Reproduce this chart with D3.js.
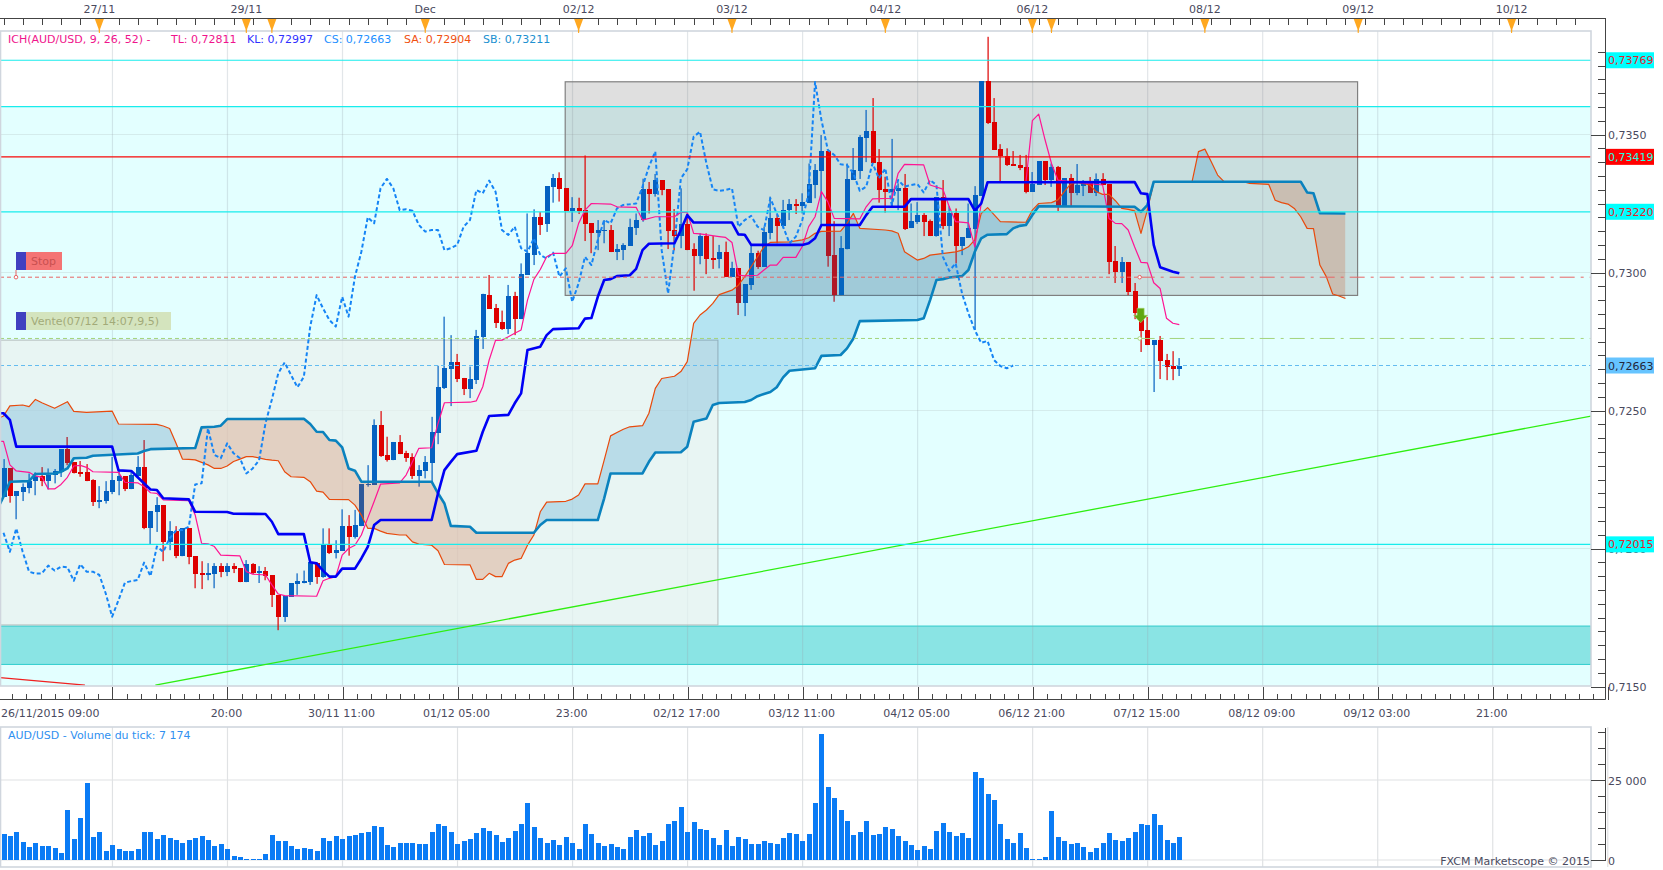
<!DOCTYPE html>
<html>
<head>
<meta charset="utf-8">
<title>AUD/USD Ichimoku</title>
<script src="https://cdnjs.cloudflare.com/ajax/libs/d3/7.8.5/d3.min.js"></script>
<style>
  html, body { margin: 0; padding: 0; background: #fff; }
  svg { display: block; font-family: "DejaVu Sans", sans-serif; font-size: 11px; }
  .axis-label { fill: #4a4a5e; }
  .axis line { stroke: #444; shape-rendering: crispEdges; }
  .axis path { display: none; }
  .axis text { fill: #4a4a5e; font-size: 11.2px; font-family: "DejaVu Sans", sans-serif; }
</style>
</head>
<body>
<div id="chart"></div>
<script>
const WIDTH = 1663;
const HEIGHT = 870;

// all prices are in pips (0,7300 = 7300), one candle per hour
const opens = [
  7218.7,7229.1,7219,7220.4,7221.8,7224.4,7226.2,7224.4,7226.6,7227.7,
  7236,7231.3,7227.7,7227.7,7224.8,7217,7217.2,7220.4,7224.4,7226.2,
  7221.5,7226.2,7229.5,7207.4,7213.2,7215.7,7202.3,7206.3,7197.2,7207.4,
  7197.2,7191.1,7190.4,7190.7,7193.6,7191.4,7193.6,7192.9,7187.8,7194.3,
  7191.1,7191.8,7190.4,7183.1,7175.2,7182.5,7187.1,7187.7,7188,7194.9,
  7189.8,7201.2,7198.5,7199.2,7208.1,7204,7208.1,7223.1,7223,7244.7,
  7233.8,7232,7238.6,7234.7,7233.1,7226.2,7228,7231.1,7241.8,7258.1,
  7265,7267.6,7261.8,7257.8,7261,7276.6,7292,7287.1,7282,7279.5,
  7291.5,7283.1,7299.1,7306.3,7320.1,7317.5,7331,7334.2,7330.6,7322.3,
  7323.4,7322.6,7317.9,7314.3,7315.2,7315.4,7307.4,7308.1,7309.6,7316.1,
  7319,7330.2,7328.4,7333.5,7330.2,7315.4,7313.2,7317.6,7308.5,7306,
  7313.2,7305.2,7304.9,7307.4,7298.4,7301.6,7289.1,7295.5,7307,7302,
  7314.3,7319.7,7317,7322.6,7324.8,7324.1,7325.2,7331.7,7336.8,7344,
  7306.3,7291.8,7308.4,7333.5,7336.8,7348.7,7351.2,7340,7330.2,7329.2,
  7329.5,7330.6,7316.1,7318.3,7320.8,7318.6,7313.2,7327.4,7316.8,7321.5,
  7309.6,7312.5,7315.7,7327.7,7369.4,7354.5,7344.7,7342.2,7339.3,7338.9,
  7338.2,7329.2,7331.7,7340.4,7333.5,7338.2,7324.1,7334.2,7328.7,7331.3,
  7332.8,7328.7,7333.9,7332,7304.2,7300.2,7303.8,7293.3,7285.7,7279.2,
  7273.7,7275.5,7268.3,7266.1,7265.1
];
const highs = [
  7232.4,7229.1,7220.8,7223.6,7227.2,7227.6,7229.5,7229,7228.8,7236,
  7240.4,7231.3,7231.7,7230.6,7225.1,7222.6,7224.4,7233.2,7228,7226.2,
  7228,7233.5,7239.3,7213.5,7218.6,7215.7,7209.9,7208.1,7207.4,7207.4,
  7197.2,7195.4,7194.7,7194.7,7194.7,7194.7,7194.7,7192.9,7195.8,7194.7,
  7193.6,7193.3,7190.4,7183.1,7182.8,7187.5,7191,7192,7195,7195,
  7207.3,7207.3,7203,7214.2,7212.1,7214,7223.3,7230.2,7246.8,7249.8,
  7240.5,7238.6,7241.1,7235.4,7234.5,7230.2,7233.5,7247.7,7266.2,7284,
  7277.3,7270.5,7261.8,7265.9,7279.2,7292.3,7299.1,7288.6,7286.2,7295.5,
  7293,7303.3,7321.4,7322.9,7321.9,7331.3,7335.7,7336.3,7330.6,7327.3,
  7327.1,7342.4,7317.9,7319,7319,7317.2,7310.3,7310.6,7319.5,7321.4,
  7334,7332.8,7335.7,7333.5,7330.2,7323,7330.5,7321.4,7310.6,7314.2,
  7314.2,7313.2,7310,7311.2,7303.9,7301.6,7295.8,7310,7307.9,7316.6,
  7327.5,7320.8,7326.3,7326.6,7326.6,7328.7,7339.5,7339.3,7349.8,7344,
  7318.6,7313.2,7339.5,7345.1,7349.8,7358.9,7363.2,7344.7,7334.7,7348.4,
  7332.3,7335.7,7325,7325.5,7321.5,7319.2,7327.4,7333.5,7324,7323.2,
  7312.8,7325,7331.3,7369.4,7385.4,7363.2,7346.5,7345,7344,7342.6,
  7342.6,7336.4,7340.4,7340.4,7339.5,7338.6,7334.2,7335.7,7339.3,7333.5,
  7334.6,7335.9,7336,7332,7309.6,7305.6,7303.8,7296.2,7286.4,7283.9,
  7275.5,7277,7270.5,7271.5,7269
];
const lows = [
  7218.7,7216.6,7210.6,7217.2,7220,7219.3,7222.6,7221.4,7223.6,7225.9,
  7230.2,7227.2,7226,7224.4,7215.4,7214.6,7216.3,7219.7,7219.3,7220.8,
  7221.5,7225.5,7207,7201.6,7206,7195.4,7199.4,7196.5,7197.2,7194.3,
  7185.6,7185.3,7188.5,7185.6,7189.6,7190,7191.1,7187.8,7187.8,7190.7,
  7187.5,7188.5,7178.8,7170.4,7173.4,7182.5,7183.2,7187.4,7186.8,7187.2,
  7189.4,7198,7196.4,7199.2,7197.4,7203.6,7208.1,7222.4,7223,7233.2,
  7231.5,7232,7234.2,7231.4,7225.2,7222.4,7225.4,7223.8,7237.8,7257.8,
  7251.6,7260.3,7255.6,7254.5,7259.6,7272.3,7286.8,7279.9,7279.2,7277.7,
  7277.3,7283.1,7299.1,7302.7,7313.6,7314.7,7325.3,7325.7,7322.3,7318.3,
  7321.2,7311.4,7307,7308.1,7310.6,7307.4,7304.5,7304.5,7309.6,7313.6,
  7318.4,7321.4,7327.5,7328,7308.5,7308,7308.8,7308.1,7293.4,7303,
  7299.4,7301.3,7301.5,7298.4,7298.4,7284.6,7284.2,7293.7,7301.3,7302,
  7312,7310.6,7316,7319,7321.2,7321.4,7325.2,7326.9,7317.2,7302.1,
  7289.4,7291.8,7308.4,7333.5,7333.9,7340,7339.7,7325.3,7321.7,7323.8,
  7322.6,7315.4,7316.1,7317.6,7313.2,7313.2,7313,7315.7,7313.2,7303.3,
  7306.3,7312.5,7279.2,7327.7,7353.8,7344.4,7333.1,7338.6,7338.6,7337.1,
  7328.7,7329.2,7331.7,7331.7,7331,7322.3,7324.1,7324.1,7328,7327.7,
  7328.8,7327.7,7331.7,7299.4,7296.2,7296.2,7291.8,7283.1,7271.2,7273.7,
  7256.7,7261.4,7261,7261,7262.5
];
const closes = [
  7229.1,7219,7220.8,7222.2,7224.4,7226.2,7224.4,7226.6,7228,7236,
  7231,7227.3,7227.3,7224.4,7216.8,7217.5,7220.8,7224.8,7226.2,7221.5,
  7226.6,7229.5,7207.4,7213.5,7215.7,7202.3,7206.3,7197.2,7207.4,7196.9,
  7190.7,7190.4,7191.1,7193.6,7191.4,7193.6,7192.5,7187.8,7194.3,7191.1,
  7191.8,7190,7183.1,7175.1,7182.8,7187.5,7188.1,7188.1,7195,7189.8,
  7201.3,7198.3,7199.4,7208.1,7204,7208.5,7223.3,7223.5,7244.7,7233.5,
  7232,7238.6,7234.2,7232.8,7226.2,7228.4,7231.3,7242.2,7258.5,7265.4,
  7267.6,7261.4,7257.8,7261.4,7277,7292.3,7286.8,7281.7,7279.5,7291.5,
  7283.1,7299.4,7307.1,7320.1,7317.2,7331.3,7334.2,7330.3,7322.3,7323.4,
  7322.3,7317.6,7314.3,7315.4,7315.4,7307.4,7308.4,7310,7316.5,7319,
  7330.2,7328.4,7333.5,7329.9,7315,7313.2,7317.6,7308.1,7306,7313.2,
  7304.9,7304.9,7307.4,7298.4,7301.6,7289.1,7295.8,7307,7302,7314.7,
  7319.7,7317,7322.6,7324.8,7324.1,7325.5,7332.1,7337.1,7344,7306,
  7291.8,7308.7,7333.9,7337.1,7349.1,7351.2,7339.7,7329.9,7329.2,7330.2,
  7330.5,7315.7,7318.6,7320.8,7318.3,7313.2,7327.4,7316.8,7321.5,7309.6,
  7312.8,7316.1,7328.1,7369.4,7354.2,7344.4,7342.2,7338.9,7338.6,7337.9,
  7329.2,7332,7340.4,7333.5,7338.2,7324.1,7334.2,7328.8,7331.7,7332.3,
  7328.8,7333.9,7331.7,7303.8,7300.2,7303.8,7292.9,7285.3,7278.8,7273.7,
  7275.5,7267.9,7265.7,7265,7266.3
];
const volumes = [
  8160,7530,8790,5650,4080,5340,4390,4390,3770,2200,
  15690,6590,13180,24160,7220,8790,2820,4710,3450,2820,
  2820,3450,8790,8790,6590,7850,6900,6280,5340,6280,
  6900,7530,6280,4390,5020,3450,1260,940,300,300,
  300,1880,7850,5960,5960,4390,3450,3770,3450,2820,
  6900,5960,7530,6590,7530,7850,8470,8790,10670,10360,
  4710,4080,5340,5340,5340,5020,5020,8790,11300,10670,
  8790,5020,5960,6590,8470,10040,9100,7850,5650,6900,
  9100,11300,17890,10360,6900,5340,6280,4710,7220,5340,
  3450,11300,8160,5340,4390,5020,4080,3450,7220,9410,
  7530,8470,4710,5960,11300,12240,16630,8790,11920,9730,
  9410,6900,4710,9410,4390,7220,6590,5020,5020,5960,
  5340,5020,6900,8470,8160,5960,8160,17890,39230,22910,
  19460,15690,12240,7850,8790,12240,7850,8160,10360,9730,
  7530,5960,4710,3140,4390,3450,9100,11610,8790,7530,
  8470,6900,27610,25730,20710,18830,11300,6590,5340,8470,
  3770,300,300,940,15380,7220,5960,5020,5340,4080,
  2510,3770,5340,8470,6280,5960,6900,8790,11300,10980,
  14440,10980,6280,5340,7174
];

// Kijun vertices
const kijunBars = [-1,0,1,2,17,18,20,21,23,24,25,29,30,35,36,41,42,43,47,48,49,50,51,52,53,55,56,57,58,59,67,68,69,70,71,74,75,76,79,80,81,82,84,85,86,90,91,92,93,94,95,96,98,99,100,101,105,106,107,108,114,115,116,117,125,126,127,128,134,135,136,141,142,151,152,153,154,177,178,179,180,181,182,183,184];
const kijunValues = [7249,7249,7246.6,7236.9,7236.9,7228.3,7228.1,7225.8,7221.4,7221.2,7218.2,7217.8,7213.3,7213.2,7212.6,7212.5,7209.7,7205.2,7205.2,7195,7194.6,7192,7189.8,7189.8,7192.7,7192.7,7196.4,7200.6,7208.5,7210.3,7210.3,7220,7228.4,7231.4,7234.2,7235.4,7242.3,7248,7248.4,7252.6,7256.2,7271.9,7273.1,7277.3,7279.5,7279.8,7283.3,7283.5,7291.2,7297.3,7297.6,7298.7,7299,7301.3,7308.1,7310.4,7310.6,7315.4,7320.8,7318.1,7318.1,7313.8,7313.7,7310,7310,7310.6,7312.4,7317.2,7317.2,7320.8,7323.8,7323.8,7326.6,7326.6,7322.4,7325,7332.7,7332.8,7328.7,7328.4,7310,7301.9,7301.1,7300.3,7299.7];

// Tenkan vertices
const tenkanBars = [-1,0,1,2,4,5,6,7,8,9,10,11,12,13,14,18,19,21,22,23,24,25,29,30,31,32,33,34,37,38,39,41,42,43,44,49,50,51,52,53,54,55,56,57,58,59,62,63,64,65,67,68,69,73,74,75,76,77,78,79,80,81,82,83,84,85,86,88,89,90,91,92,95,96,99,100,102,105,106,107,108,109,112,113,114,115,116,118,119,120,121,122,124,125,126,127,128,129,130,134,135,136,139,140,141,144,145,147,148,149,151,152,153,154,160,161,162,163,164,165,166,167,172,173,174,175,176,177,178,179,180,181,182,183,184];
const tenkanValues = [7238.8,7238.8,7230.3,7228.1,7227.6,7226.3,7225.8,7221.6,7221.6,7223.2,7225.8,7229.9,7230.1,7229.4,7227.8,7227.6,7224,7223.8,7222.4,7220.2,7220,7217.6,7217.3,7212.1,7201.9,7201.7,7200.7,7197.6,7197.3,7191.6,7190.7,7190.4,7186.8,7183.5,7182.9,7182.7,7188.3,7189.2,7189.8,7197.6,7200,7201.2,7204.9,7211,7217,7223.3,7223.8,7226.6,7231.4,7236.3,7236.5,7245.3,7252.8,7253,7253.5,7258.6,7268.3,7275.4,7275.5,7276.7,7278,7279.2,7290,7297.5,7301.1,7305.7,7306.9,7306.9,7309.7,7317.8,7322.6,7325,7324.8,7323.8,7323.6,7319,7320.2,7320.2,7321.8,7321.8,7314.2,7314,7313,7312.7,7310.9,7299.1,7298.8,7299,7300.9,7302.7,7302.7,7305.5,7305.5,7309.4,7316.6,7320.2,7329.3,7325.6,7319.6,7319.4,7323.8,7326.7,7326.9,7335.9,7339.2,7339,7331.7,7330.2,7323.8,7318.4,7318,7309.3,7325,7332.8,7332.8,7355,7357.4,7348,7339.5,7333.5,7333.2,7332.9,7331.7,7319.6,7317.8,7317.7,7315.4,7309.3,7303.7,7303.5,7296.3,7294.2,7283.4,7281.6,7281.1];

// Chikou, one value per bar
const chikouValues = [
  7205.7,7198.8,7207.3,7198.8,7191.6,7190.9,7191,7193.8,7192,7193.4,
  7193.2,7188.3,7194.3,7191.6,7191.6,7190.4,7183.7,7175.3,7181.3,7187.6,
  7188.2,7188.6,7194.9,7190,7200.7,7198.8,7203.7,7206.5,7206.7,7207.9,
  7223.2,7223.6,7243.5,7233.9,7232.7,7238.1,7234.5,7232.7,7227.2,7229,
  7232,7245.4,7254,7263.5,7267.4,7262.8,7258.4,7262.2,7280.4,7291.8,
  7287,7282.8,7280.4,7291.2,7284,7298.5,7307.5,7320,7317.8,7330.5,
  7333.9,7330.5,7322.6,7322.9,7322.4,7317.2,7314.8,7315.4,7315.4,7308.1,
  7308.8,7310,7316.6,7319,7329.9,7328.7,7333.3,7329.3,7315.4,7313.6,
  7316.6,7308.8,7307.5,7312.4,7306.3,7305.1,7307.2,7298.5,7301.5,7289.4,
  7296.1,7305.7,7302.7,7311.8,7319,7317.8,7323.2,7324.5,7324.7,7325,
  7331.1,7338.3,7343.8,7308.1,7292.4,7310.6,7334.1,7337.4,7349.2,7351,
  7339.5,7330.1,7329.6,7329.9,7330.5,7316.6,7319,7320.5,7316.6,7315.4,
  7326.9,7321.4,7316.6,7310.6,7313,7319,7328.7,7369,7355.2,7344.4,
  7342.6,7339.2,7338.9,7335.9,7329.6,7331.1,7339.5,7334.1,7337.7,7324.4,
  7333.5,7331.1,7331.7,7332.1,7329,7333.5,7331.7,7305.7,7300.6,7303.3,
  7292.4,7285.2,7279.1,7274.5,7275.2,7268.3,7266.1,7265.3,7266.3
];

// Senkou A vertices
const senkouABars = [-1,0,1,3,4,5,6,8,10,11,13,17,18,24,25,26,27,28,29,30,31,32,33,34,35,36,37,38,39,41,42,43,44,45,47,48,49,50,51,54,55,56,57,58,59,60,62,63,64,65,67,68,69,73,74,75,76,77,78,79,80,81,82,83,84,85,88,89,90,91,93,94,95,96,97,98,100,101,102,103,105,106,107,108,109,110,111,112,113,114,115,116,117,118,119,120,123,125,126,127,128,131,132,133,134,138,139,140,141,143,144,145,149,150,151,152,153,154,156,160,161,162,164,165,166,167,168,170,171,172,173,174,175,176,177,178,179,180,185,186,187,188,189,190,191,194,195,198,199,200,201,202,203,204,205,206,207,208,209,210];
const senkouAValues = [7247,7248,7251.7,7252,7251.4,7254,7252.8,7250.8,7253.2,7249.7,7249.3,7249.8,7245.1,7245,7244.4,7243.5,7238.1,7232.4,7232.3,7232.1,7231.2,7230.3,7229,7229,7229.9,7231.5,7232.4,7233.3,7233.3,7232.3,7232,7231.8,7227.8,7226,7225.8,7224.2,7220.8,7220.4,7217.8,7217.7,7215.7,7212.1,7207.3,7207.3,7206.3,7205.5,7204.9,7204.9,7202.4,7201.6,7201.2,7199.2,7194.2,7194.1,7188.8,7188.8,7191,7189.8,7189.8,7194.6,7195.8,7196.4,7201.2,7204.9,7213.3,7216.8,7217.1,7217.9,7219.4,7223.4,7223.4,7232,7240.8,7242,7243.2,7244.1,7244.5,7249,7258,7261.6,7262.4,7264.1,7267.7,7281.6,7284.6,7286.4,7288.8,7292,7292.8,7293.6,7295.4,7298.5,7302.1,7305.7,7309.3,7310.9,7311.1,7311.8,7312.6,7314.2,7314.9,7315,7317.8,7321.4,7316,7315.4,7315.1,7314.2,7307.5,7304.5,7305.1,7306.3,7307.5,7308.1,7309.3,7311.8,7321.4,7323.5,7318.4,7318.2,7322.6,7325,7325.3,7326.3,7329.3,7332.1,7332.7,7331.7,7329.3,7328.3,7328.3,7326,7323.2,7322.9,7322.3,7314.2,7322.6,7332.6,7332.6,7332.9,7343.8,7344.7,7340.1,7335.3,7332.9,7332.9,7332.3,7331.9,7326.2,7325.3,7324.8,7323.2,7320.2,7316,7315.9,7302.7,7298.5,7292.2,7291.5,7290.6];

// Senkou B vertices
const senkouBBars = [-1,0,1,4,5,8,9,10,11,13,14,21,22,23,30,31,33,34,35,47,48,49,50,51,52,53,54,55,56,67,68,69,70,73,74,83,84,85,93,94,95,100,101,102,106,107,108,110,111,112,116,117,118,119,120,121,122,123,127,128,131,132,133,134,143,144,145,146,147,148,150,151,152,153,154,157,158,159,160,161,162,177,178,179,180,203,204,205,206,210];
const senkouBValues = [7214,7218.8,7224.2,7224.4,7227,7227.2,7227.8,7229,7232.7,7232.9,7233.6,7234.4,7235.3,7236,7236.4,7243.9,7244.1,7244.5,7246.9,7247,7245.1,7242.3,7242.2,7239.3,7239.1,7236.6,7229,7228.2,7224.2,7224.2,7220,7216.3,7208.2,7207.9,7205.7,7205.7,7208.5,7210.3,7210.3,7218.2,7227.2,7227.2,7231.4,7234.8,7234.9,7236.9,7245.9,7247.1,7252,7252.7,7253.1,7253.8,7255.2,7256,7256.7,7258.4,7262,7264.4,7265.3,7269.8,7270.1,7272.5,7276.1,7282.4,7282.8,7283.4,7290,7297.3,7297.6,7298.2,7298.7,7300.9,7307.5,7312.4,7313.7,7313.9,7316,7316.9,7317.2,7320.8,7324,7323.8,7322,7324.4,7332.9,7332.9,7329,7328.7,7321.5,7321.4];

// tick labels
const priceTicks = [7350, 7300, 7250, 7200, 7150];
const priceTickLabels = ["0,7350", "0,7300", "0,7250", "0,7200", "0,7150"];
const dayBars = [15, 38, 66, 90, 114, 138, 161, 188, 212, 236];
const dayLabels = ["27/11", "29/11", "Dec", "02/12", "03/12", "04/12", "06/12", "08/12", "09/12", "10/12"];
const eventBars = [15, 38, 42, 66, 90, 114, 138, 161, 164, 188, 212, 236];
const timeBars = [35.05, 53.05, 71.05, 89.05, 107.05, 125.05, 143.05, 161.05, 179.05, 197.05, 215.05, 233.05];
const timeLabels = ["20:00", "30/11 11:00", "01/12 05:00", "23:00", "02/12 17:00", "03/12 11:00", "04/12 05:00", "06/12 21:00", "07/12 15:00", "08/12 09:00", "09/12 03:00", "21:00"];
const gridBars = d3.range(14).map((k) => 17.05 + 18 * k);

// price levels
const resistanceLevels = [7376.9, 7360.1, 7322, 7201.5];
const priceTags = [
  { value: 7376.9, label: "0,73769", bg: "#00ffff", fg: "#e8202a" },
  { value: 7341.9, label: "0,73419", bg: "#ff0000", fg: "#20ffe0" },
  { value: 7322, label: "0,73220", bg: "#00ffff", fg: "#e8202a" },
  { value: 7266.3, label: "0,72663", bg: "#66c4ff", fg: "#23263a" },
  { value: 7201.5, label: "0,72015", bg: "#00ffff", fg: "#e8202a" }
];

const x = d3.scaleLinear().domain([0, 184]).range([3.5, 1179.3]);
const y = d3.scaleLinear().domain([7150, 7350]).range([686.5, 134.5]);
const yVol = d3.scaleLinear().domain([0, 25000]).range([860, 780]);
const PLOT = { left: 0, right: 1591, top: 31, bottom: 686 };
const VOL = { top: 727, bottom: 867 };

const svg = d3.select("#chart").append("svg")
  .attr("width", WIDTH)
  .attr("height", HEIGHT)
  .attr("viewBox", `0 0 ${WIDTH} ${HEIGHT}`);

const defs = svg.append("defs");
defs.append("clipPath").attr("id", "plot-clip")
  .append("rect")
  .attr("x", PLOT.left)
  .attr("y", PLOT.top)
  .attr("width", PLOT.right - PLOT.left)
  .attr("height", PLOT.bottom - PLOT.top);

function zip(bars, values) {
  return bars.map((bar, index) => ({ bar, value: values[index] }));
}

const kijun = zip(kijunBars, kijunValues);
const tenkan = zip(tenkanBars, tenkanValues);
const chikou = chikouValues.map((value, bar) => ({ bar, value }));
const senkouA = zip(senkouABars, senkouAValues);
const senkouB = zip(senkouBBars, senkouBValues);

const line = d3.line().x((d) => x(d.bar)).y((d) => y(d.value));

// backgrounds
svg.append("rect").attr("x", PLOT.left).attr("y", PLOT.top)
  .attr("width", PLOT.right).attr("height", y(7360.1) - PLOT.top).attr("fill", "#ffffff");
svg.append("rect").attr("x", PLOT.left).attr("y", y(7360.1))
  .attr("width", PLOT.right).attr("height", PLOT.bottom - y(7360.1)).attr("fill", "#e3ffff");

const plot = svg.append("g").attr("clip-path", "url(#plot-clip)");

// horizontal grid
plot.append("g").selectAll("line").data(priceTicks).join("line")
  .attr("x1", PLOT.left).attr("x2", PLOT.right)
  .attr("y1", (d) => y(d)).attr("y2", (d) => y(d))
  .attr("stroke", "#d4ecec").attr("stroke-width", 1);

// support band
plot.append("rect").attr("x", PLOT.left).attr("width", PLOT.right)
  .attr("y", y(7171.9)).attr("height", y(7158) - y(7171.9))
  .attr("fill", "#8ae4e4").attr("stroke", "#2fcccc").attr("stroke-width", 1);

// vertical grid
plot.append("g").selectAll("line").data(gridBars).join("line")
  .attr("x1", (d) => x(d)).attr("x2", (d) => x(d))
  .attr("y1", PLOT.top).attr("y2", PLOT.bottom)
  .attr("stroke", "rgba(150,165,175,0.28)").attr("stroke-width", 1.2);

// drawn rectangles
plot.append("rect")
  .attr("x", x(-2)).attr("width", x(111.8) - x(-2))
  .attr("y", y(7275.5)).attr("height", y(7172.3) - y(7275.5))
  .attr("fill", "rgba(233,241,238,0.7)").attr("stroke", "#b4bcbc").attr("stroke-width", 1);
plot.append("rect")
  .attr("x", x(87.9)).attr("width", x(211.9) - x(87.9))
  .attr("y", y(7369.1)).attr("height", y(7291.7) - y(7369.1))
  .attr("fill", "rgba(120,120,120,0.24)").attr("stroke", "#808080").attr("stroke-width", 1.2);

// candles
const candles = plot.append("g").selectAll("g").data(d3.range(opens.length)).join("g")
  .attr("fill", (i) => (closes[i] >= opens[i] ? "#0561c1" : "#dd0000"))
  .attr("stroke", "none");
candles.append("rect")
  .attr("x", (i) => Math.round(x(i)) - 0.5).attr("width", 1.2)
  .attr("y", (i) => y(highs[i]))
  .attr("height", (i) => y(lows[i]) - y(highs[i]));
candles.append("rect")
  .attr("x", (i) => Math.round(x(i)) - 2.5).attr("width", 5)
  .attr("y", (i) => y(Math.max(opens[i], closes[i])))
  .attr("height", (i) => Math.max(1.5, Math.abs(y(opens[i]) - y(closes[i]))))
  .attr("shape-rendering", "crispEdges");

// Ichimoku cloud
const cloudTop = d3.area().x((d) => x(d.bar)).y0((d) => y(d.value)).y1(PLOT.top);
const cloudBottom = d3.area().x((d) => x(d.bar)).y0((d) => y(d.value)).y1(PLOT.bottom);
defs.append("clipPath").attr("id", "above-b").append("path").attr("d", cloudTop(senkouB));
defs.append("clipPath").attr("id", "below-b").append("path").attr("d", cloudBottom(senkouB));
plot.append("g").attr("clip-path", "url(#above-b)").append("path")
  .attr("d", cloudBottom(senkouA)).attr("fill", "rgba(0,120,190,0.2)");
plot.append("g").attr("clip-path", "url(#below-b)").append("path")
  .attr("d", cloudTop(senkouA)).attr("fill", "rgba(205,60,0,0.2)");

// trend lines
plot.append("path").attr("d", line(zip([23.77, 248.45], [7150.5, 7248])))
  .attr("fill", "none").attr("stroke", "#2fee10").attr("stroke-width", 1.3);
plot.append("path").attr("d", line(zip([-0.55, 12.75], [7153.2, 7150.5])))
  .attr("fill", "none").attr("stroke", "#f02020").attr("stroke-width", 1.3);

// Ichimoku lines
function drawSeries(data, color, width, dash) {
  plot.append("path").attr("d", line(data))
    .attr("fill", "none").attr("stroke", color)
    .attr("stroke-width", width)
    .attr("stroke-dasharray", dash || null)
    .attr("stroke-linejoin", "round");
}
drawSeries(senkouA, "#e84a0c", 1.2);
drawSeries(chikou, "#1584f5", 2, "4 2.5");
drawSeries(tenkan, "#ff1493", 1.2);
drawSeries(senkouB, "#0a82be", 2.6);
drawSeries(kijun, "#0000f5", 2.6);

// order levels
plot.append("g").selectAll("line").data(resistanceLevels).join("line")
  .attr("x1", PLOT.left).attr("x2", PLOT.right)
  .attr("y1", (d) => y(d)).attr("y2", (d) => y(d))
  .attr("stroke", "#19ecec").attr("stroke-width", 1.2);
plot.append("line")
  .attr("x1", PLOT.left).attr("x2", PLOT.right)
  .attr("y1", y(7341.9)).attr("y2", y(7341.9))
  .attr("stroke", "#f80808").attr("stroke-width", 1.2);

function orderLine(value, color) {
  const split = x(177.8);
  plot.append("line").attr("x1", 0).attr("x2", split)
    .attr("y1", y(value)).attr("y2", y(value))
    .attr("stroke", color).attr("stroke-dasharray", "4 3");
  plot.append("line").attr("x1", split).attr("x2", PLOT.right)
    .attr("y1", y(value)).attr("y2", y(value))
    .attr("stroke", color).attr("stroke-dasharray", "15 6 3 6");
  plot.append("circle").attr("cx", split).attr("cy", y(value)).attr("r", 1.8)
    .attr("fill", "#fff").attr("stroke", color);
}
orderLine(7298.3, "#e86464");
orderLine(7276.1, "#a4d47c");
plot.append("line").attr("x1", 0).attr("x2", PLOT.right)
  .attr("y1", y(7266.3)).attr("y2", y(7266.3))
  .attr("stroke", "#64bcf0").attr("stroke-dasharray", "4 3");

// sell arrow on the entry bar
plot.append("g")
  .attr("transform", `translate(${x(177.95)},${y(7284.5)})`)
  .append("path")
  .attr("d", "M-3.5,-7 L3.5,-7 L3.5,0 L7,0 L0,7.5 L-7,0 L-3.5,0 Z")
  .attr("fill", "#5fa712").attr("stroke", "#a6d46a").attr("stroke-width", 0.6);

// order chips
function orderChip(top, width, fill, label, color) {
  svg.append("rect").attr("x", 16).attr("y", top).attr("width", 10).attr("height", 18).attr("fill", "#4040c0");
  svg.append("rect").attr("x", 26).attr("y", top).attr("width", width).attr("height", 18).attr("fill", fill);
  svg.append("text").attr("x", 31).attr("y", top + 13).attr("fill", color).text(label);
}
orderChip(252, 36, "#f47474", "Stop", "#c85050");
orderChip(312, 145, "#d4e4be", "Vente(07/12 14:07,9,5)", "#a2aa78");
svg.append("path").attr("d", "M16,270 V277").attr("stroke", "#e86464");
svg.append("circle").attr("cx", 16).attr("cy", y(7298.3)).attr("r", 1.8).attr("fill", "#fff").attr("stroke", "#e86464");

// plot frame
svg.append("rect").attr("x", 0.5).attr("y", PLOT.top)
  .attr("width", PLOT.right - 0.5).attr("height", PLOT.bottom - PLOT.top)
  .attr("fill", "none").attr("stroke", "#d0d6de").attr("stroke-width", 1.6);

// header legend
const header = svg.append("text").attr("y", 43).attr("xml:space", "preserve");
[
  { px: 8, text: "ICH(AUD/USD, 9, 26, 52) -", color: "#f0148c" },
  { px: 171, text: "TL: 0,72811", color: "#f0148c" },
  { px: 247, text: "KL: 0,72997", color: "#3030ff" },
  { px: 324, text: "CS: 0,72663", color: "#1e90ff" },
  { px: 404, text: "SA: 0,72904", color: "#f05010" },
  { px: 483, text: "SB: 0,73211", color: "#2090d0" }
].forEach((part) => {
  header.append("tspan").attr("x", part.px).attr("fill", part.color).text(part.text);
});

// top axis
svg.append("line").attr("x1", 0).attr("x2", 1605.5).attr("y1", 18.5).attr("y2", 18.5)
  .attr("stroke", "#444").attr("stroke-width", 1);
svg.append("g").attr("class", "axis").attr("transform", "translate(0,18.5)")
  .call(d3.axisBottom(x).tickValues(d3.range(0, 249, 3)).tickSize(6).tickFormat(""));
svg.append("g").selectAll("text").data(dayBars).join("text")
  .attr("class", "axis-label")
  .attr("x", (d) => x(d))
  .attr("y", 13)
  .attr("text-anchor", "middle")
  .text((d, i) => dayLabels[i]);
svg.append("g").selectAll("path").data(eventBars).join("path")
  .attr("transform", (d) => `translate(${x(d)},19)`)
  .attr("d", "M-4.5,0 L4.5,0 L0.8,10 L0.5,14 L-0.5,14 L-0.8,10 Z")
  .attr("fill", "#ffa820");

// bottom axis
svg.append("line").attr("x1", 0).attr("x2", 1605.5).attr("y1", 699.5).attr("y2", 699.5)
  .attr("stroke", "#444").attr("stroke-width", 1);
svg.append("g").attr("class", "axis").attr("transform", "translate(0,699.5)")
  .call(d3.axisTop(x).tickValues(d3.range(-1, 249, 2.25).map((d) => d + 0.05)).tickSize(6).tickFormat(""));
svg.append("g").attr("class", "axis").attr("transform", "translate(0,699.5)")
  .call(d3.axisTop(x).tickValues(gridBars).tickSize(13).tickFormat(""));
svg.append("text").attr("class", "axis-label").attr("x", 1).attr("y", 717).text("26/11/2015 09:00");
svg.append("g").selectAll("text").data(timeBars).join("text")
  .attr("class", "axis-label")
  .attr("x", (d) => x(d) - 1)
  .attr("y", 717)
  .attr("text-anchor", "middle")
  .text((d, i) => timeLabels[i]);

// price axis
svg.append("line").attr("x1", 1605.5).attr("x2", 1605.5).attr("y1", 18).attr("y2", 699.5)
  .attr("stroke", "#444").attr("stroke-width", 1);
svg.append("g").attr("class", "axis").attr("transform", "translate(1605.5,0)")
  .call(d3.axisLeft(y).tickValues(d3.range(7150, 7385, 5)).tickSize(8).tickFormat(""));
svg.append("g").attr("class", "axis").attr("transform", "translate(1605.5,0)")
  .call(d3.axisLeft(y).tickValues(priceTicks).tickSize(14.5).tickFormat(""));
svg.append("g").selectAll("text").data(priceTicks).join("text")
  .attr("class", "axis-label")
  .attr("x", 1608)
  .attr("y", (d) => y(d) + 4.5)
  .text((d, i) => priceTickLabels[i]);

// price tags
const tags = svg.append("g").selectAll("g").data(priceTags).join("g")
  .attr("transform", (d) => `translate(1606,${y(d.value)})`);
tags.append("rect").attr("x", 0).attr("y", -8).attr("width", 48).attr("height", 16).attr("fill", (d) => d.bg);
tags.append("text").attr("x", 2).attr("y", 4).attr("fill", (d) => d.fg).text((d) => d.label);

// volume panel
svg.append("g").selectAll("line").data(gridBars).join("line")
  .attr("x1", (d) => x(d)).attr("x2", (d) => x(d))
  .attr("y1", VOL.top).attr("y2", VOL.bottom)
  .attr("stroke", "#e0e2e4").attr("stroke-width", 1.2);
svg.append("g").selectAll("line").data([0, 25000]).join("line")
  .attr("x1", 0).attr("x2", PLOT.right)
  .attr("y1", (d) => yVol(d)).attr("y2", (d) => yVol(d))
  .attr("stroke", "#e0e2e4").attr("stroke-width", 1.2);
svg.append("rect").attr("x", 0.5).attr("y", VOL.top)
  .attr("width", PLOT.right - 0.5).attr("height", VOL.bottom - VOL.top)
  .attr("fill", "none").attr("stroke", "#d0d6de").attr("stroke-width", 1.6);

svg.append("g").selectAll("rect").data(volumes).join("rect")
  .attr("x", (d, i) => Math.round(x(i)) - 2.5)
  .attr("width", 5)
  .attr("y", (d) => yVol(d))
  .attr("height", (d) => yVol(0) - yVol(d))
  .attr("fill", "#0a7bf5")
  .attr("shape-rendering", "crispEdges");

svg.append("text").attr("x", 8).attr("y", 739).attr("fill", "#3090f0")
  .text("AUD/USD - Volume du tick: 7 174");
svg.append("text").attr("x", 1590).attr("y", 865).attr("text-anchor", "end").attr("fill", "#4a4a5e")
  .text("FXCM Marketscope © 2015");

svg.append("line").attr("x1", 1605.5).attr("x2", 1605.5).attr("y1", 728).attr("y2", 861)
  .attr("stroke", "#444");
svg.append("g").attr("class", "axis").attr("transform", "translate(1605.5,0)")
  .call(d3.axisLeft(yVol).tickValues(d3.range(0, 41000, 5000)).tickSize(8).tickFormat(""));
svg.append("g").attr("class", "axis").attr("transform", "translate(1605.5,0)")
  .call(d3.axisLeft(yVol).tickValues([0, 25000]).tickSize(14.5).tickFormat(""));
svg.append("text").attr("class", "axis-label").attr("x", 1608).attr("y", yVol(25000) + 4.5).text("25 000");
svg.append("text").attr("class", "axis-label").attr("x", 1608).attr("y", yVol(0) + 5).text("0");
</script>
</body>
</html>
